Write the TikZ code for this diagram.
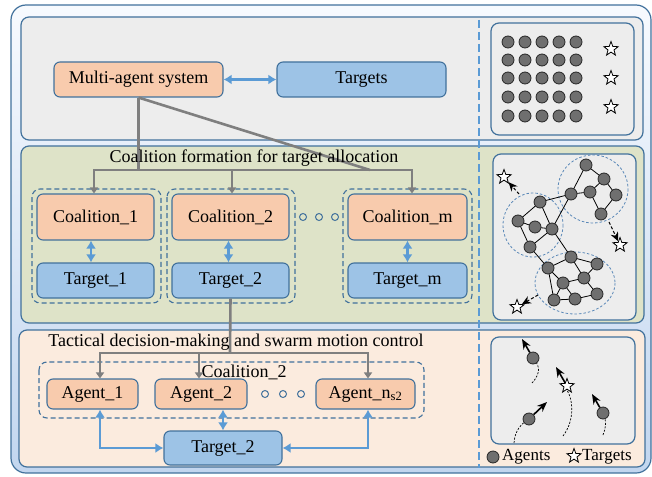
\documentclass[tikz,border=0pt]{standalone}
\usepackage{fontspec}
\setmainfont{Liberation Serif}
\usetikzlibrary{arrows.meta,shapes.geometric,calc}

\definecolor{bordc}{HTML}{41719C}
\definecolor{peach}{HTML}{F8CBAD}
\definecolor{lblue}{HTML}{9DC3E6}
\definecolor{arrowblue}{HTML}{5B9BD5}
\definecolor{grayc}{HTML}{7F7F7F}
\definecolor{graybg}{HTML}{EDEDED}
\definecolor{greenbg}{HTML}{DEE3C8}
\definecolor{peachbg}{HTML}{FBEBDE}
\definecolor{outertop}{HTML}{F7FAFE}
\definecolor{outerbot}{HTML}{C2D6EF}
\definecolor{dotgray}{HTML}{6F6F6F}
\definecolor{clusterc}{HTML}{5A88B8}

\begin{document}
\begin{tikzpicture}[x=1pt,y=-1pt,
  font=\fontsize{18}{21}\selectfont,
  box/.style={draw=bordc, line width=1.1pt, rounded corners=6pt, inner sep=0pt, align=center},
  peachbox/.style={box, fill=peach},
  bluebox/.style={box, fill=lblue},
  panel/.style={draw=bordc, line width=1.2pt, rounded corners=8pt},
  grouping/.style={draw=bordc, line width=1.1pt, dash pattern=on 5pt off 3pt, rounded corners=8pt},
  gline/.style={draw=grayc, line width=2.6pt},
  garrow/.style={gline, -{Triangle[length=6pt,width=8pt]}},
  bdbl/.style={draw=arrowblue, line width=2.4pt, {Latex[length=8pt,width=10pt]}-{Latex[length=8pt,width=10pt]}},
  ellipsis/.style={circle, draw=bordc, line width=1pt, minimum size=7pt, inner sep=0pt},
  agent/.style={circle, draw=black!85, line width=0.8pt, fill=dotgray, minimum size=12pt, inner sep=0pt},
  tstar/.style={star, star points=5, star point ratio=2.4, draw=black, line width=0.8pt, fill=white, minimum size=15pt, inner sep=0pt},
  motion/.style={line width=1.6pt, -{Stealth[length=10pt,width=8pt]}},
  trail/.style={line width=0.7pt, dash pattern=on 2pt off 1.5pt},
  pull/.style={line width=1pt, dash pattern=on 3pt off 2pt, -{Stealth[length=9pt,width=8pt]}},
  cluster/.style={draw=clusterc, line width=0.8pt, dash pattern=on 2.5pt off 2pt},
  edge/.style={draw=black, line width=0.8pt}
]
\useasboundingbox (0,0) rectangle (652,476);

% outer frame
\path[draw=bordc, line width=1.2pt, rounded corners=15pt, top color=outertop, bottom color=outerbot]
  (11,5) rectangle (651,473);

% three layers
\path[panel, fill=graybg]  (21,17)  rectangle (643,140);
\path[panel, fill=greenbg] (21,146) rectangle (644,323);
\path[panel, fill=peachbg] (19,330) rectangle (645,467);

% separator between diagram and illustrations
\draw[arrowblue, line width=1.6pt, dash pattern=on 8pt off 4pt] (479,20) -- (479,468);

% illustration panels
\path[panel, fill=graybg] (491,23)  rectangle (634,135);
\path[panel, fill=graybg] (493,154) rectangle (636,320);
\path[panel, fill=graybg] (491,337) rectangle (635,444);

% ---------------- layer 1 ----------------
\node[peachbox, minimum width=169pt, minimum height=35pt] (mas) at (138.5,79.5) {Multi-agent system};
\node[bluebox,  minimum width=169pt, minimum height=35pt] (tg)  at (361.5,79.5) {Targets};
\draw[bdbl] (mas.east) -- (tg.west);

% ---------------- layer 2 ----------------
\path[grouping] (32,189)  rectangle (161,303);
\path[grouping] (167,189) rectangle (295,303);
\path[grouping] (343,189) rectangle (472,303);

\node[peachbox, minimum width=117pt, minimum height=46pt] (c1) at (95.5,217)  {Coalition\_1};
\node[peachbox, minimum width=117pt, minimum height=46pt] (c2) at (230.5,217) {Coalition\_2};
\node[peachbox, minimum width=119pt, minimum height=46pt] (cm) at (407.5,217) {Coalition\_m};
\node[bluebox, minimum width=117pt, minimum height=35pt] (t1) at (95.5,280.5)  {Target\_1};
\node[bluebox, minimum width=117pt, minimum height=35pt] (t2) at (230.5,280.5) {Target\_2};
\node[bluebox, minimum width=119pt, minimum height=35pt] (tm) at (407.5,280.5) {Target\_m};

\draw[bdbl] ([xshift=-4.5pt]c1.south) -- ([xshift=-4.5pt]t1.north);
\draw[bdbl] ([xshift=-2pt]c2.south) -- ([xshift=-2pt]t2.north);
\draw[bdbl] (cm.south) -- (tm.north);

\node[ellipsis] (d1) at (303,217) {};
\node[ellipsis] (d2) at (319,217) {};
\node[ellipsis] (d3) at (335,217) {};

% allocation connectors
\coordinate (bus1) at (138.5,170);
\coordinate (diagend) at (370,170);
\draw[gline] (mas.south) -- (bus1);
\draw[gline] (mas.south) -- (diagend);
\draw[garrow] (bus1) -| ([xshift=-1.5pt]c1.north);
\draw[garrow] (bus1) -| ([xshift=4.5pt]cm.north);
\draw[garrow] ([xshift=1.5pt]c2.north |- bus1) -- ([xshift=1.5pt]c2.north);

\node (title2) at (254,158) {Coalition formation for target allocation};

% ---------------- layer 3 ----------------
\path[grouping] (39,362) rectangle (424,418);
\node (cgroup) at (244,372) {Coalition\_2};

\node[peachbox, minimum width=91pt, minimum height=30pt] (a1) at (92.5,394) {Agent\_1};
\node[peachbox, minimum width=92pt, minimum height=30pt] (a2) at (201,394)  {Agent\_2};
\node[peachbox, minimum width=99pt, minimum height=30pt] (an) at (365.5,394) {Agent\_n\textsubscript{s2}};
\node[bluebox, minimum width=118pt, minimum height=34pt] (tb) at (223,448) {Target\_2};

\node[ellipsis] (e1) at (265,394) {};
\node[ellipsis] (e2) at (283,394) {};
\node[ellipsis] (e3) at (301,394) {};

\draw[bdbl] ([xshift=7.5pt]a1.south) |- (tb.west);
\draw[bdbl] ([xshift=2.5pt]an.south) |- (tb.east);
\draw[bdbl] (tb.north |- a2.south) -- (tb.north);

\coordinate (bus2) at (230,353);
\draw[gline] (t2.south) -- (bus2);
\draw[garrow] (bus2) -| ([xshift=7.5pt]a1.north);
\draw[garrow] (bus2) -| ([xshift=2.5pt]an.north);
\draw[garrow] ([xshift=-2pt]a2.north |- bus2) -- ([xshift=-2pt]a2.north);

\node (title3) at (236,342) {Tactical decision-making and swarm motion control};

% ---------------- illustration 1: agents and targets ----------------
\foreach \i/\x in {1/508,2/525,3/542,4/559,5/576}
  \foreach \j/\y in {1/42,2/60,3/78,4/97,5/116}
    \node[agent] (s\i\j) at (\x,\y) {};
\node[tstar] (st1) at (611,49) {};
\node[tstar] (st2) at (611,78) {};
\node[tstar] (st3) at (611,107) {};

% ---------------- illustration 2: coalitions ----------------
\draw[cluster] (533,225) ellipse [x radius=30, y radius=32];
\draw[cluster] (593,189) ellipse [x radius=35, y radius=34];
\draw[cluster] (575,283) ellipse [x radius=40, y radius=31];

\foreach \n/\x/\y in {a/586/165, b/604/179, c/590/192, d/616/195, e/601/214,
                      f/571/194, g/540/202, h/518/221, i/535/227, j/552/229,
                      k/530/247, l/571/257, m/597/264, n/548/268, o/584/278,
                      p/563/283, q/554/300, r/575/299, s/597/294}
  \coordinate (v\n) at (\x,\y);
\foreach \u/\v in {a/b, a/f, b/c, b/d, c/f, c/e, d/e, f/g, f/j, g/h, g/j,
                   h/i, h/k, i/j, j/k, j/l, k/n, n/l, l/m, l/o, m/o,
                   n/p, n/q, p/o, p/q, p/r, o/s, r/s, q/r}
  \draw[edge] (v\u) -- (v\v);
\foreach \n in {a,b,c,d,e,f,g,h,i,j,k,l,m,n,o,p,q,r,s}
  \node[agent] (w\n) at (v\n) {};

\node[tstar] (gs1) at (504,177) {};
\node[tstar] (gs2) at (620,245) {};
\node[tstar] (gs3) at (517,307) {};
\coordinate (p1) at (519,194);
\coordinate (p2) at (609,222);
\coordinate (p3) at (538,295);
\draw[pull] (p1) -- (gs1);
\draw[pull] (p2) -- (gs2);
\draw[pull] (p3) -- (gs3);

% ---------------- illustration 3: swarm motion ----------------
\coordinate (m1) at (532,383);
\coordinate (m2) at (563,436);
\coordinate (m3) at (514,443);
\coordinate (m4) at (603,435);
\coordinate (h1) at (522,339);
\coordinate (h2) at (556,367);
\coordinate (h3) at (547,402);
\coordinate (h4) at (592,394);

\draw[trail] (m1) .. controls (542,372) and (539,365) .. (533,358);
\draw[trail] (m2) .. controls (575,420) and (573,400) .. (567,390);
\draw[trail] (m3) .. controls (515,430) and (521,424) .. (529,419);
\draw[trail] (m4) .. controls (606,428) and (607,420) .. (603,413);

\node[agent] (ma) at (533,358) {};
\node[tstar] (ms) at (567,386) {};
\node[agent] (mb) at (529,419) {};
\node[agent] (mc) at (603,413) {};

\draw[motion] (ma) -- (h1);
\draw[motion] (ms) -- (h2);
\draw[motion] (mb) -- (h3);
\draw[motion] (mc) -- (h4);

% legend
\node[agent] (lg1) at (493,457) {};
\node[anchor=west, inner sep=0pt, font=\fontsize{17}{20}\selectfont] (lg1t) at (502,457) {Agents};
\node[tstar] (lg2) at (574,456) {};
\node[anchor=west, inner sep=0pt, font=\fontsize{17}{20}\selectfont] (lg2t) at (582,457) {Targets};

\end{tikzpicture}
\end{document}
